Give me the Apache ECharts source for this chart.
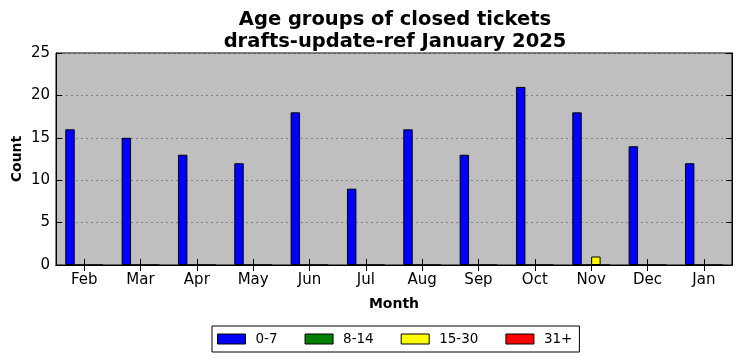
<!DOCTYPE html>
<html><head><meta charset="utf-8">
<script src="https://cdn.jsdelivr.net/npm/echarts@6/dist/echarts.min.js"></script>
<style>html,body{margin:0;padding:0;background:#fff}#c{width:742px;height:361px}</style>
</head><body><div id="c"></div>
<script>
const months = ['Feb','Mar','Apr','May','Jun','Jul','Aug','Sep','Oct','Nov','Dec','Jan'];
const age0_7 = [16,15,13,12,18,9,16,13,21,18,14,12];
const age8_14 = [0,0,0,0,0,0,0,0,0,0,0,0];
const age15_30 = [0,0,0,0,0,0,0,0,0,1,0,0];
const age31p = [0,0,0,0,0,0,0,0,0,0,0,0];
const seriesNames = ['0-7','8-14','15-30','31+'];
const colors = ['#0000ff','#008000','#ffff00','#ff0000'];
const yTicks = [0,5,10,15,20,25];

const FONT = 'DejaVu Sans';
const chart = echarts.init(document.getElementById('c'), null, {renderer:'canvas'});
const dataSets = [age0_7, age8_14, age15_30, age31p];
const series = dataSets.map((d,i)=>({
  name: seriesNames[i], type:'bar', data:d, xAxisIndex:0, yAxisIndex:0,
  barGap:'0%', barCategoryGap:'33%',
  itemStyle:{color:colors[i], borderColor:'#000', borderWidth:1},
  emphasis:{disabled:true}, animation:false
}));
chart.setOption({
  animation:false,
  backgroundColor:'#fff',
  title:{text:'Age groups of closed tickets\ndrafts-update-ref January 2025', left:390, textAlign:'center', top:4,
    textStyle:{fontFamily:FONT, fontWeight:'bold', fontSize:19.5, lineHeight:22, color:'#000'}},
  grid:{left:56, right:10, top:53, bottom:96, outerBoundsMode:'none', containLabel:false,
    backgroundColor:'#bfbfbf', show:true, borderColor:'#000', borderWidth:1},
  legend:{data:seriesNames, top:326, left:212, itemWidth:28, itemHeight:10, itemGap:27, icon:'rect',
    borderColor:'#000', borderWidth:1, padding:[6,7,6,5], borderRadius:0,
    textStyle:{fontFamily:FONT, fontSize:13.5, color:'#000', padding:[0,0,0,5]},
    itemStyle:{borderColor:'#000', borderWidth:1}},
  xAxis:[{type:'category', data:months, position:'bottom',
    name:'Month', nameLocation:'middle', nameGap:32,
    nameTextStyle:{fontFamily:FONT, fontWeight:'bold', fontSize:14, color:'#000'},
    axisLine:{show:true, lineStyle:{color:'#000'}},
    axisTick:{show:true, inside:true, alignWithLabel:true, length:6, lineStyle:{color:'#000'}},
    axisLabel:{fontFamily:FONT, fontSize:15, color:'#000', margin:8},
    splitLine:{show:false}},
   {type:'category', data:months, position:'top',
    axisLine:{show:true, lineStyle:{color:'#000'}},
    axisTick:{show:true, inside:true, alignWithLabel:true, length:6, lineStyle:{color:'#000'}},
    axisLabel:{show:false}, splitLine:{show:false}}],
  yAxis:[{type:'value', min:0, max:25, interval:5, position:'left',
    name:'Count', nameLocation:'middle', nameGap:32, nameRotate:90, nameMoveOverlap:false,
    nameTextStyle:{fontFamily:FONT, fontWeight:'bold', fontSize:14, color:'#000'},
    axisLine:{show:true, lineStyle:{color:'#000'}},
    axisTick:{show:true, inside:true, length:6, lineStyle:{color:'#000'}},
    axisLabel:{fontFamily:FONT, fontSize:15, color:'#000', margin:6,
      formatter:v=>yTicks.includes(v)?String(v):''},
    splitLine:{show:true, lineStyle:{color:'#808080', type:[2,3], width:1}}},
   {type:'value', min:0, max:25, interval:5, position:'right',
    axisLine:{show:true, lineStyle:{color:'#000'}},
    axisTick:{show:true, inside:true, length:6, lineStyle:{color:'#000'}},
    axisLabel:{show:false}, splitLine:{show:false}}],
  series: series
});
</script></body></html>
